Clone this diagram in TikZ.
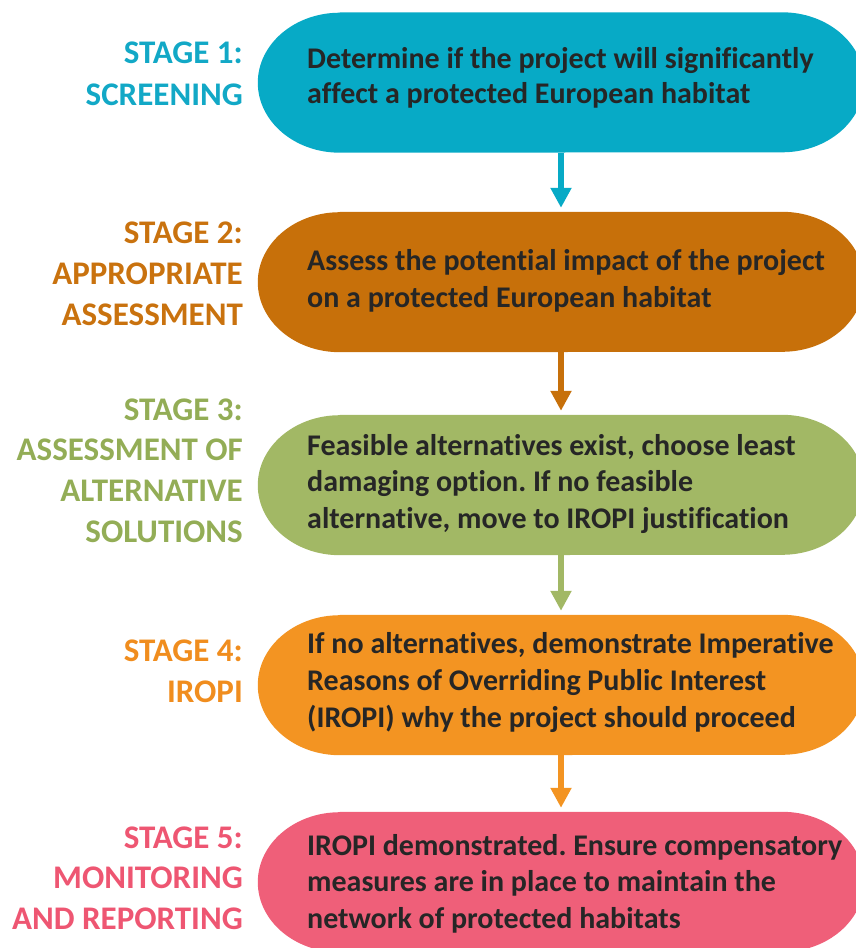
\documentclass[tikz,border=0pt]{standalone}
\usepackage{fontspec}
\setmainfont{Carlito}[Ligatures={NoCommon}]
\usetikzlibrary{arrows.meta}
\frenchspacing
\definecolor{c1}{HTML}{07AAC6}
\definecolor{c2}{HTML}{C7700A}
\definecolor{c3}{HTML}{A2B865}
\definecolor{c4}{HTML}{F39422}
\definecolor{c5}{HTML}{EF5F79}
\definecolor{l1}{HTML}{12A8C6}
\definecolor{l2}{HTML}{C9720E}
\definecolor{l3}{HTML}{93AD56}
\definecolor{l4}{HTML}{F08D1E}
\definecolor{l5}{HTML}{EE5672}
\definecolor{txt}{HTML}{262626}
\newcommand\rline[1]{\hbox to 240pt{\hfil#1}}
\newcommand\pillfill[2]{\fill[#2] ([xshift=82pt]#1.north west) -- ([xshift=-82pt]#1.north east) arc[start angle=90,end angle=-90,x radius=82pt,y radius=70pt] -- ([xshift=82pt]#1.south west) arc[start angle=270,end angle=90,x radius=82pt,y radius=70pt] -- cycle;}
\begin{document}
\begin{tikzpicture}[x=1pt,y=-1pt,
  box/.style={minimum width=606pt,minimum height=140pt,inner sep=0pt,draw=none},
  stagelabel/.style={anchor=base east,inner sep=0pt,font=\fontsize{33}{41}\selectfont\bfseries},
  boxtext/.style={anchor=base west,inner sep=0pt,font=\fontsize{30}{36.5}\selectfont\bfseries,text=txt},
  flow/.style={line width=6.5pt,-{Triangle[width=20pt,length=20pt]}}]
\useasboundingbox (0,0) rectangle (856,948);
% boxes
\node[box] (b1) at (561,82.5) {};
\node[box] (b2) at (561,282) {};
\node[box] (b3) at (561,485) {};
\node[box] (b4) at (561,685) {};
\node[box] (b5) at (561,882) {};
\pillfill{b1}{c1}
\pillfill{b2}{c2}
\pillfill{b3}{c3}
\pillfill{b4}{c4}
\pillfill{b5}{c5}
% box texts
\node[boxtext] (t1) at (307,68) {\vtop{\baselineskip=35.5pt\hbox{Determine if the project will significantly}\hbox{affect a protected European habitat}}};
\node[boxtext] (t2) at (307,270) {\vtop{\baselineskip=37pt\hbox{Assess the potential impact of the project}\hbox{on a protected European habitat}}};
\node[boxtext] (t3) at (307,455) {\vtop{\baselineskip=36.5pt\hbox{Feasible alternatives exist, choose least}\hbox{damaging option. If no feasible}\hbox{alternative, move to IROPI justification}}};
\node[boxtext] (t4) at (307,653) {\vtop{\baselineskip=37pt\hbox{If no alternatives, demonstrate Imperative}\hbox{Reasons of Overriding Public Interest}\hbox{(IROPI) why the project should proceed}}};
\node[boxtext] (t5) at (307,855) {\vtop{\baselineskip=36.5pt\hbox{IROPI demonstrated. Ensure compensatory}\hbox{measures are in place to maintain the}\hbox{network of protected habitats}}};
% stage labels
\node[stagelabel,text=l1] (s1) at (243,63) {\vtop{\baselineskip=42pt\rline{STAGE 1:}\rline{SCREENING}}};
\node[stagelabel,text=l2] (s2) at (243,243) {\vtop{\baselineskip=41pt\rline{STAGE 2:}\rline{APPROPRIATE}\rline{ASSESSMENT}}};
\node[stagelabel,text=l3] (s3) at (243,420) {\vtop{\baselineskip=40.7pt\rline{STAGE 3:}\rline{ASSESSMENT OF}\rline{ALTERNATIVE}\rline{SOLUTIONS}}};
\node[stagelabel,text=l4] (s4) at (243,661) {\vtop{\baselineskip=41pt\rline{STAGE 4:}\rline{IROPI}}};
\node[stagelabel,text=l5] (s5) at (243,848) {\vtop{\baselineskip=40.5pt\rline{STAGE 5:}\rline{MONITORING}\rline{AND REPORTING}}};
% arrows
\draw[flow,c1] (b1.south) -- ([yshift=4pt]b2.north);
\draw[flow,c2] (b2.south) -- ([yshift=4pt]b3.north);
\draw[flow,c3] (b3.south) -- ([yshift=4pt]b4.north);
\draw[flow,c4] (b4.south) -- ([yshift=4pt]b5.north);
\end{tikzpicture}
\end{document}
